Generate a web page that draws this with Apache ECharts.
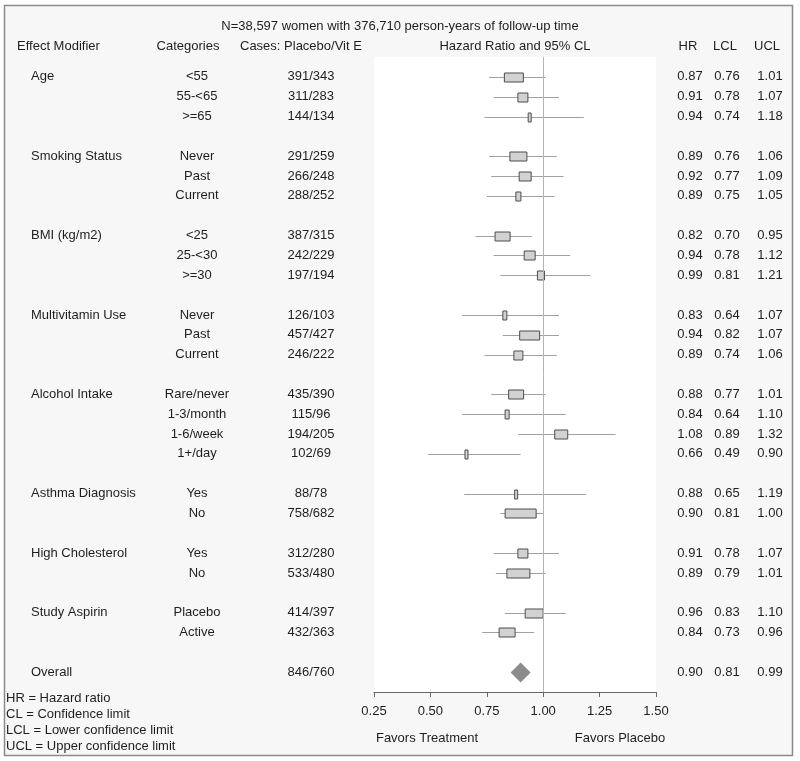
<!DOCTYPE html>
<html>
<head>
<meta charset="utf-8">
<title>Forest plot</title>
<script src="https://cdn.jsdelivr.net/npm/echarts@6/dist/echarts.min.js"></script>
<style>
	html, body { margin: 0; padding: 0; background: #fff; }
	#forest { width: 800px; height: 761px; }
</style>
</head>
<body>
<div id="forest"></div>
<script>
// one entry per row, empty entries are the spacer rows
var modifiers = ['Age', '', '', '', 'Smoking Status', '', '', '', 'BMI (kg/m2)', '', '', '',
	'Multivitamin Use', '', '', '', 'Alcohol Intake', '', '', '', '', 'Asthma Diagnosis', '', '',
	'High Cholesterol', '', '', 'Study Aspirin', '', '', 'Overall'];
var categories = ['<55', '55-<65', '>=65', '', 'Never', 'Past', 'Current', '', '<25', '25-<30', '>=30', '',
	'Never', 'Past', 'Current', '', 'Rare/never', '1-3/month', '1-6/week', '1+/day', '', 'Yes', 'No', '',
	'Yes', 'No', '', 'Placebo', 'Active', '', ''];
var cases = ['391/343', '311/283', '144/134', '', '291/259', '266/248', '288/252', '', '387/315', '242/229', '197/194', '',
	'126/103', '457/427', '246/222', '', '435/390', '115/96', '194/205', '102/69', '', '88/78', '758/682', '',
	'312/280', '533/480', '', '414/397', '432/363', '', '846/760'];
var hr = [0.87, 0.91, 0.94, null, 0.89, 0.92, 0.89, null, 0.82, 0.94, 0.99, null,
	0.83, 0.94, 0.89, null, 0.88, 0.84, 1.08, 0.66, null, 0.88, 0.90, null,
	0.91, 0.89, null, 0.96, 0.84, null, 0.90];
var lcl = [0.76, 0.78, 0.74, null, 0.76, 0.77, 0.75, null, 0.70, 0.78, 0.81, null,
	0.64, 0.82, 0.74, null, 0.77, 0.64, 0.89, 0.49, null, 0.65, 0.81, null,
	0.78, 0.79, null, 0.83, 0.73, null, 0.81];
var ucl = [1.01, 1.07, 1.18, null, 1.06, 1.09, 1.05, null, 0.95, 1.12, 1.21, null,
	1.07, 1.07, 1.06, null, 1.01, 1.10, 1.32, 0.90, null, 1.19, 1.00, null,
	1.07, 1.01, null, 1.10, 0.96, null, 0.99];
// relative weight of each estimate (drives the box width)
var weight = [19, 10, 3, null, 17, 12, 5, null, 15, 11, 7, null,
	4, 20, 9, null, 15, 4, 13, 3, null, 3, 31, null,
	10, 23, null, 18, 16, null, 20];
var xTicks = [0.25, 0.50, 0.75, 1.00, 1.25, 1.50];

var FONT = '13px "Liberation Sans", Arial, sans-serif';
var TXT = '#1e1e1e';

function txt(s, x, y, align){
	return {
		type: 'text',
		style: { text: s, x: x, y: y, fill: TXT, font: FONT, align: align || 'left', verticalAlign: 'middle' }
	};
}

// draws one row: text columns + CI line + box (diamond for overall)
function renderRow(params, api){
	var i = params.dataIndex;
	var y = api.coord([1, i])[1];
	var kids = [];
	if (modifiers[i]) kids.push(txt(modifiers[i], 31, y));
	if (categories[i]) kids.push(txt(categories[i], 197, y, 'center'));
	if (cases[i]) kids.push(txt(cases[i], 311, y, 'center'));
	if (hr[i] == null) return { type: 'group', children: kids };

	kids.push(txt(hr[i].toFixed(2), 690, y, 'center'));
	kids.push(txt(lcl[i].toFixed(2), 727, y, 'center'));
	kids.push(txt(ucl[i].toFixed(2), 770, y, 'center'));

	var cx = api.coord([hr[i], i])[0];
	var yy = Math.round(y) + 0.5;
	if (modifiers[i] === 'Overall') {
		var h = weight[i] / 2;
		kids.push({
			type: 'polygon',
			shape: { points: [[cx - h, yy], [cx, yy - h], [cx + h, yy], [cx, yy + h]] },
			style: { fill: '#8c8c8c' }
		});
	} else {
		var x1 = api.coord([lcl[i], i])[0];
		var x2 = api.coord([ucl[i], i])[0];
		kids.push({
			type: 'line',
			shape: { x1: x1, y1: yy, x2: x2, y2: yy },
			style: { stroke: '#a0a0a0', lineWidth: 1 }
		});
		var w = weight[i];
		kids.push({
			type: 'rect',
			shape: { x: cx - w / 2, y: yy - 4.5, width: w, height: 9 },
			style: { fill: '#d2d2d2', stroke: '#4d4d4d', lineWidth: 1 }
		});
	}
	return { type: 'group', children: kids };
}

var rows = hr.map(function(v, i){ return [v == null ? 1 : v, i]; });

var myChart = echarts.init(document.getElementById('forest'), null, { renderer: 'canvas' });
var option = {
	backgroundColor: '#ffffff',
	animation: false,
	title: {
		text: 'N=38,597 women with 376,710 person-years of follow-up time',
		left: 'center',
		top: 15,
		textStyle: { fontSize: 13, fontWeight: 'normal', color: TXT, fontFamily: '"Liberation Sans", Arial, sans-serif' }
	},
	grid: {
		left: 374,
		right: 144,
		top: 57,
		bottom: 69,
		show: true,
		backgroundColor: '#ffffff',
		borderWidth: 0
	},
	xAxis: {
		type: 'value',
		position: 'bottom',
		min: 0.25,
		max: 1.5,
		interval: 0.25,
		splitLine: { show: false },
		axisLine: { show: true, onZero: false, lineStyle: { color: '#666', width: 1 } },
		axisTick: { show: true, length: 5, lineStyle: { color: '#666' } },
		axisLabel: {
			margin: 13,
			fontSize: 13,
			color: TXT,
			fontFamily: '"Liberation Sans", Arial, sans-serif',
			formatter: function(v){ return v.toFixed(2); },
			customValues: xTicks
		}
	},
	yAxis: {
		type: 'value',
		inverse: true,
		min: -1,
		max: 31,
		show: false
	},
	series: [{
		type: 'custom',
		renderItem: renderRow,
		data: rows,
		encode: { x: 0, y: 1 },
		clip: false,
		z: 3,
		markLine: {
			silent: true,
			symbol: 'none',
			label: { show: false },
			lineStyle: { color: '#b4b4b4', type: 'solid', width: 1 },
			data: [{ xAxis: 1 }]
		}
	}],
	graphic: [
		{
			type: 'rect',
			z: -100,
			shape: { x: 4.5, y: 5.5, width: 788, height: 750 },
			style: { fill: '#f7f7f7', stroke: '#8a8a8a', lineWidth: 1.5 }
		},
		txt('Effect Modifier', 17, 46),
		txt('Categories', 188, 46, 'center'),
		txt('Cases: Placebo/Vit E', 240, 46),
		txt('Hazard Ratio and 95% CL', 515, 46, 'center'),
		txt('HR', 688, 46, 'center'),
		txt('LCL', 725, 46, 'center'),
		txt('UCL', 767, 46, 'center'),
		txt('Favors Treatment', 427, 738, 'center'),
		txt('Favors Placebo', 620, 738, 'center'),
		txt('HR = Hazard ratio', 6, 698),
		txt('CL = Confidence limit', 6, 714),
		txt('LCL = Lower confidence limit', 6, 730),
		txt('UCL = Upper confidence limit', 6, 746)
	]
};
myChart.setOption(option);
</script>
</body>
</html>
